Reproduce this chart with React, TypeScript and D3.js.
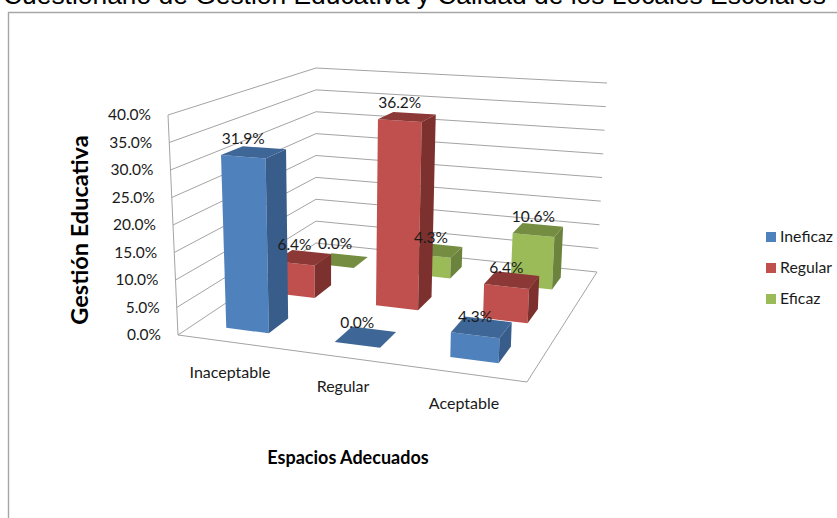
import React from "react";
import * as d3 from "d3";

const categories = ["Inaceptable", "Regular", "Aceptable"];
const seriesNames = ["Ineficaz", "Regular", "Eficaz"];
const ineficaz = [31.9, 0.0, 4.3];
const regular = [6.4, 36.2, 6.4];
const eficaz = [0.0, 4.3, 10.6];
const seriesValues = [ineficaz, regular, eficaz];
const yTicks = [0, 5, 10, 15, 20, 25, 30, 35, 40];
const categoryLabelPos = [[230, 373], [343, 387], [464, 404]];
const colors = [
  { front: "#4f81bd", side: "#385d8a", top: "#3e6797" },
  { front: "#c0504d", side: "#7d312f", top: "#8c3836" },
  { front: "#9bbb59", side: "#6c833d", top: "#748d41" },
];
const FONT = "Lato, Carlito, sans-serif";

// Screen corners of the chart's floor and ceiling planes.
const A = [178, 335], B = [527, 382], C = [597, 272], D = [316, 243];
const At = [168, 115], Bt = [536, 139], Ct = [607, 83], Dt = [316, 68];

function homography(p0: number[], p1: number[], p2: number[], p3: number[]) {
  const sx = p0[0] - p1[0] + p2[0] - p3[0];
  const sy = p0[1] - p1[1] + p2[1] - p3[1];
  const dx1 = p1[0] - p2[0], dx2 = p3[0] - p2[0];
  const dy1 = p1[1] - p2[1], dy2 = p3[1] - p2[1];
  const det = dx1 * dy2 - dx2 * dy1;
  const g = (sx * dy2 - dx2 * sy) / det;
  const h = (dx1 * sy - sx * dy1) / det;
  const a = p1[0] - p0[0] + g * p1[0], b = p3[0] - p0[0] + h * p3[0], c = p0[0];
  const d = p1[1] - p0[1] + g * p1[1], e = p3[1] - p0[1] + h * p3[1], f = p0[1];
  return (u: number, v: number) => {
    const w = 1 + g * u + h * v;
    return [(a * u + b * v + c) / w, (d * u + e * v + f) / w];
  };
}
const floor = homography(A, B, C, D);
const ceil = homography(At, Bt, Ct, Dt);
const level = d3.scaleLinear().domain([0, 40]).range([0, 1]);
const uScale = d3.scaleBand<number>().domain([0, 1, 2]).range([0, 1]).paddingInner(0.6).paddingOuter(0.3);
const vScale = d3.scaleBand<number>().domain([0, 1, 2]).range([0, 1]).paddingInner(0.6).paddingOuter(0.3);

function project(u: number, v: number, val: number) {
  const p = floor(u, v), q = ceil(u, v), t = level(val);
  return [p[0] + (q[0] - p[0]) * t, p[1] + (q[1] - p[1]) * t];
}
const poly = (pts: number[][]) => d3.line()(pts as [number, number][]) + "Z";

export default function App() {
  const bw = uScale.bandwidth(), bd = vScale.bandwidth();
  const bars: React.ReactNode[] = [];
  const labels: React.ReactNode[] = [];
  [2, 1, 0].forEach((s) => {
    categories.forEach((_, c) => {
      const val = seriesValues[s][c];
      const u0 = uScale(c)!, u1 = u0 + bw, v0 = vScale(s)!, v1 = v0 + bd;
      const col = colors[s];
      const key = `${s}-${c}`;
      if (val > 0) {
        bars.push(<path key={key + "f"} d={poly([project(u0, v0, 0), project(u1, v0, 0), project(u1, v0, val), project(u0, v0, val)])} fill={col.front} />);
        bars.push(<path key={key + "s"} d={poly([project(u1, v0, 0), project(u1, v1, 0), project(u1, v1, val), project(u1, v0, val)])} fill={col.side} />);
      }
      bars.push(<path key={key + "t"} d={poly([project(u0, v0, val), project(u1, v0, val), project(u1, v1, val), project(u0, v1, val)])} fill={col.top} />);
      const top = project(u0 + bw / 2, v0, val);
      labels.push(
        <text key={key + "l"} x={top[0]} y={top[1] - (val > 0 ? 13 : 17)} textAnchor="middle" fontFamily={FONT} fontSize={15.5} fill="#1a1a1a">
          {val.toFixed(1)}%
        </text>
      );
    });
  });

  return (
    <svg width={837} height={518} style={{ position: "absolute", left: 0, top: 0, background: "#fff" }}>
      <path d="M8.5,518V12.5H837" fill="none" stroke="#a6a6a6" strokeWidth={1.4} />
      <text x={3} y={3.5} fontFamily="'Liberation Sans', Arial, sans-serif" fontSize={26.4} fill="#000">
        Cuestionario de Gestión Educativa y Calidad de los Locales Escolares
      </text>

      {yTicks.map((t) => (
        <path key={t} d={d3.line()([project(0, 0, t), project(0, 1, t), project(1, 1, t)] as [number, number][])!} fill="none" stroke="#a3a3a3" strokeWidth={1} />
      ))}
      <path d={d3.line()([At, A, B, C] as [number, number][])!} fill="none" stroke="#a3a3a3" strokeWidth={1} />

      {yTicks.map((t) => {
        const p = project(0, 0, t);
        return (
          <text key={t} x={p[0] - 17} y={p[1] + 5} textAnchor="end" fontFamily={FONT} fontSize={15.5} fill="#1a1a1a">
            {t.toFixed(1)}%
          </text>
        );
      })}

      {bars}
      {labels}

      {categories.map((c, i) => (
        <text key={c} x={categoryLabelPos[i][0]} y={categoryLabelPos[i][1] + 5} textAnchor="middle" fontFamily={FONT} fontSize={16} fill="#1a1a1a">
          {c}
        </text>
      ))}

      <text x={348} y={464} textAnchor="middle" fontFamily={FONT} fontWeight={700} fontSize={18} fill="#000">
        Espacios Adecuados
      </text>
      <text transform="translate(88,230) rotate(-90)" textAnchor="middle" fontFamily={FONT} fontWeight={700} fontSize={23.5} fill="#000">
        Gestión Educativa
      </text>

      {seriesNames.map((n, i) => (
        <g key={n} transform={`translate(766,${237 + i * 31})`}>
          <rect x={0} y={-5} width={10} height={10} fill={colors[i].front} />
          <text x={14} y={5} fontFamily={FONT} fontSize={15.8} fill="#1a1a1a">{n}</text>
        </g>
      ))}
    </svg>
  );
}
